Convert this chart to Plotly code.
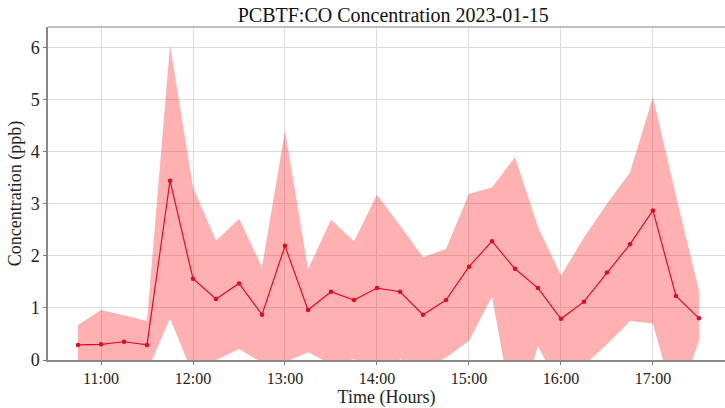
import plotly.graph_objects as go

# 15-minute sampling times on 2023-01-15
times = [
    "10:45", "11:00", "11:15", "11:30", "11:45", "12:00", "12:15", "12:30",
    "12:45", "13:00", "13:15", "13:30", "13:45", "14:00", "14:15", "14:30",
    "14:45", "15:00", "15:15", "15:30", "15:45", "16:00", "16:15", "16:30",
    "16:45", "17:00", "17:15", "17:30",
]

# mean CO concentration (ppb)
mean_ppb = [
    0.29, 0.30, 0.35, 0.29, 3.44, 1.56, 1.17, 1.47,
    0.87, 2.19, 0.96, 1.31, 1.15, 1.38, 1.31, 0.87,
    1.15, 1.79, 2.28, 1.75, 1.38, 0.79, 1.12, 1.68,
    2.22, 2.87, 1.23, 0.80,
]

# upper / lower edge of the spread band (ppb)
upper_ppb = [
    0.67, 0.96, 0.86, 0.75, 6.04, 3.31, 2.29, 2.71,
    1.78, 4.40, 1.74, 2.69, 2.28, 3.17, 2.58, 1.97,
    2.13, 3.19, 3.31, 3.89, 2.55, 1.62, 2.35, 3.00,
    3.60, 5.04, 3.15, 1.33,
]
lower_ppb = [
    -0.10, -0.35, -0.15, -0.22, 0.80, -0.28, 0.00, 0.21,
    -0.05, -0.04, 0.15, -0.08, 0.02, -0.30, 0.02, -0.20,
    0.05, 0.37, 1.22, -1.20, 0.27, -0.60, -0.10, 0.30,
    0.75, 0.70, -0.90, 0.37,
]

hour_ticks = ["11:00", "12:00", "13:00", "14:00", "15:00", "16:00", "17:00"]
y_ticks = [0, 1, 2, 3, 4, 5, 6]

day = "2023-01-15"
x = [f"{day} {t}" for t in times]

FONT = "Liberation Serif"
LINE_RED = "rgb(226,10,40)"

fig = go.Figure()

fig.add_trace(go.Scatter(
    x=x, y=lower_ppb, mode="lines", line=dict(width=0),
    showlegend=False, hoverinfo="skip",
))
fig.add_trace(go.Scatter(
    x=x, y=upper_ppb, mode="lines", line=dict(width=0),
    fill="tonexty", fillcolor="rgba(255,40,40,0.36)",
    showlegend=False, hoverinfo="skip",
))
fig.add_trace(go.Scatter(
    x=x, y=mean_ppb, mode="lines+markers",
    line=dict(color=LINE_RED, width=1.2),
    marker=dict(color=LINE_RED, size=4.5),
    showlegend=False,
))

fig.update_layout(
    width=725, height=408,
    margin=dict(l=48, r=0, t=27, b=48),
    paper_bgcolor="white", plot_bgcolor="white",
    font=dict(family=FONT, size=16, color="#222"),
    title=dict(
        text="PCBTF:CO Concentration 2023-01-15",
        x=0.51, xref="paper", xanchor="center",
        y=1, yref="paper", yanchor="bottom", pad=dict(b=5),
        font=dict(family=FONT, size=20, color="#111"),
    ),
    xaxis=dict(
        type="date",
        range=[f"{day} 10:25:25", f"{day} 17:47:00"],
        tickvals=[f"{day} {t}" for t in hour_ticks],
        ticktext=hour_ticks,
        ticks="outside", ticklen=3, tickcolor="#777",
        showline=True, linecolor="#888", linewidth=1.5,
        showgrid=True, gridcolor="#dcdcdc", gridwidth=1,
        zeroline=False,
        tickfont=dict(family=FONT, size=16, color="#222"),
        title=dict(text="Time (Hours)", standoff=4,
                   font=dict(family=FONT, size=18, color="#222")),
    ),
    yaxis=dict(
        range=[0, 6.39],
        tickvals=y_ticks,
        ticks="outside", ticklen=3, tickcolor="#777",
        showline=True, linecolor="#888", linewidth=1.5,
        showgrid=True, gridcolor="#dcdcdc", gridwidth=1,
        zeroline=False,
        tickfont=dict(family=FONT, size=18, color="#222"),
        title=dict(text="Concentration (ppb)", standoff=4,
                   font=dict(family=FONT, size=18, color="#222")),
    ),
    shapes=[dict(
        type="line", xref="paper", yref="paper",
        x0=0, x1=1, y0=1, y1=1,
        line=dict(color="#aaa", width=1.5),
    )],
)

fig.write_html("out.html")
